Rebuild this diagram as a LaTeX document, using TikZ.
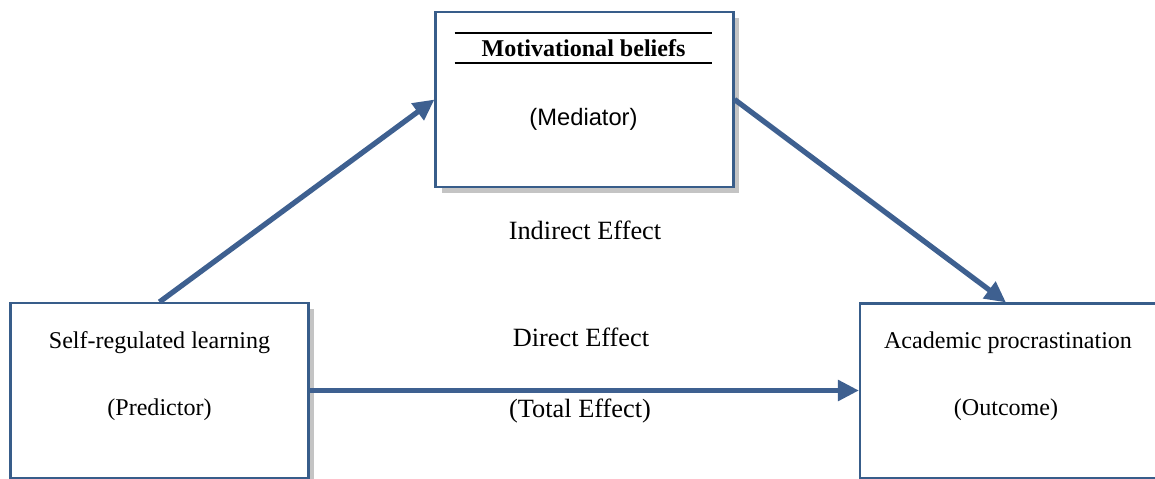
\documentclass[tikz,border=0pt]{standalone}
\usepackage{fontspec}
\setmainfont{Liberation Serif}
\setsansfont{Liberation Sans}
\usetikzlibrary{arrows.meta,positioning,calc,shadows}
\definecolor{boxblue}{HTML}{385D8A}
\definecolor{arrowblue}{HTML}{3E6090}
\definecolor{shadowgray}{HTML}{C4C4C4}

\begin{document}
\begin{tikzpicture}[x=0.02cm,y=-0.02cm,
  effbox/.style={draw=boxblue,line width=1.2pt,fill=white,minimum width=5.96cm,minimum height=3.5cm,inner sep=0pt,
    drop shadow={shadow xshift=0.12cm,shadow yshift=-0.12cm,fill=shadowgray,opacity=1}},
  boxtext/.style={font=\fontsize{13.7}{16}\selectfont,inner sep=0pt},
  efftext/.style={font=\fontsize{15}{18}\selectfont,inner sep=0pt},
  effarrow/.style={arrowblue,line width=3pt,-{Triangle[length=0.42cm,width=0.4cm]}}]
  \useasboundingbox (0,0) rectangle (1155,479);
  % boxes (1 unit = 1 px of the reference)
  \node[effbox] (mediator) at (584.5,99.5) {};
  \node[effbox] (srl) at (159.5,390.5) {};
  \node[effbox] (outcome) at (1009,391) {};
  % mediator title between two rules
  \node[boxtext,font=\fontsize{13.7}{16}\selectfont\bfseries,minimum width=5.14cm,minimum height=0.6cm] (medtitle) at (583.5,48) {Motivational beliefs};
  \draw[line width=1.1pt] (medtitle.north west) -- (medtitle.north east);
  \draw[line width=1.1pt] (medtitle.south west) -- (medtitle.south east);
  \node[boxtext,font=\fontsize{13.5}{16}\sffamily] (medrole) at ($(mediator.north)+(-1,108)$) {(Mediator)};
  % predictor and outcome labels
  \node[boxtext] (srlname) at ($(srl.north)+(0,41)$) {Self-regulated learning};
  \node[boxtext] (srlrole) at ($(srl.north)+(0,108)$) {(Predictor)};
  \node[boxtext] (outname) at ($(outcome.north)+(-1,40)$) {Academic procrastination};
  \node[boxtext] (outrole) at ($(outcome.north)+(-3,107)$) {(Outcome)};
  % paths
  \draw[effarrow] (srl.north) -- (mediator.west);
  \draw[effarrow] (mediator.east) -- ($(outcome.north)+(-3,0)$);
  \draw[effarrow] (srl.east) -- (srl.east -| outcome.west);
  \node[efftext] (indirect) at (585,230) {Indirect Effect};
  \node[efftext] (direct) at (581,337) {Direct Effect};
  \node[efftext] (total) at (580,411) {(Total Effect)};
\end{tikzpicture}
\end{document}
